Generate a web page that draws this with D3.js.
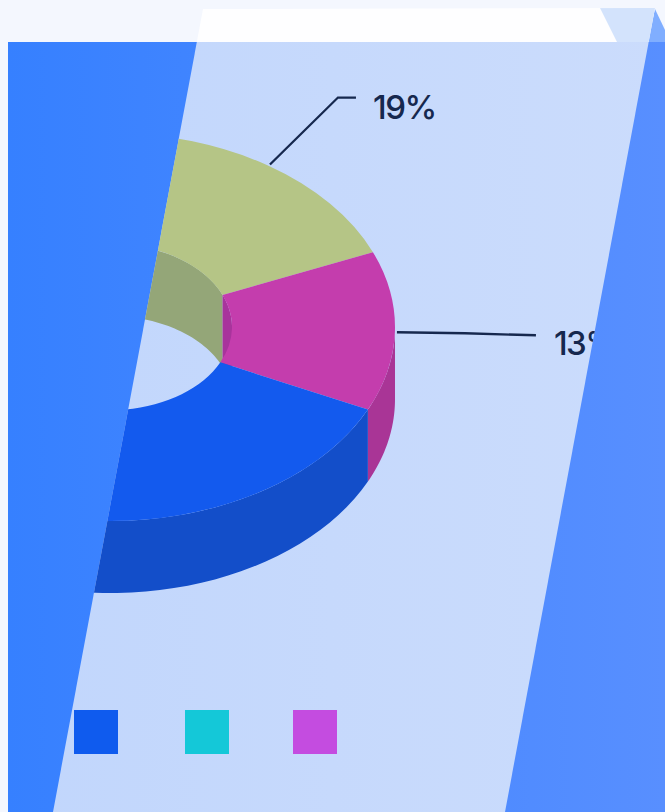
<!DOCTYPE html>
<html>
<head>
<meta charset="utf-8">
<script src="https://cdn.jsdelivr.net/npm/d3@7"></script>
<style>
  html, body { margin: 0; padding: 0; background: #f4f7fe; overflow: hidden; }
  text { font-family: Inter, sans-serif; font-weight: 500; fill: #16284e; }
</style>
</head>
<body>
<div id="chart"></div>
<script>
// Slices, clockwise from the top of the ring. Only the first two show a label,
// blue is partly hidden and teal/purple sit behind the panel (estimated)
const categories = ['Green', 'Magenta', 'Blue', 'Teal', 'Purple'];
const shares = [18.7, 13.3, 32, 20, 16];
const topColors = ['#b5c586', '#c43dad', '#135aee', '#14b4c4', '#a83fc4'];
const outerWallColors = ['#94a678', '#a93596', '#134ec9', '#1199a8', '#8f35a8'];
const innerWallColors = ['#94a678', '#a8349c', '#134ec9', '#1199a8', '#8f35a8'];

const labelled = ['Green', 'Magenta'];
const legendItems = ['Blue', 'Teal', 'Purple'];
const legendColors = ['#0f5bee', '#14c8d8', '#c44ce0'];

const width = 665;
const height = 812;

// Ring geometry
const cx = 110, cy = 327;
const outerR = 285, innerR = 122;
const squash = 194 / 285;
const depth = 72;

const svg = d3.select('#chart')
    .append('svg')
    .attr('width', width)
    .attr('height', height)
    .style('display', 'block');

const defs = svg.append('defs');

const blueGrad = defs.append('linearGradient').attr('id', 'blueGrad');
blueGrad.append('stop').attr('offset', '0%').attr('stop-color', '#3680ff');
blueGrad.append('stop').attr('offset', '100%').attr('stop-color', '#588fff');

const paleGrad = defs.append('linearGradient').attr('id', 'paleGrad');
paleGrad.append('stop').attr('offset', '0%').attr('stop-color', '#c1d6fc');
paleGrad.append('stop').attr('offset', '100%').attr('stop-color', '#cbdcfc');

// Slanted panel, also the clip of everything in the chart
const panelPoints = [[203, 9], [655, 8], [505, 812], [53, 812]];
defs.append('clipPath').attr('id', 'panelClip')
    .append('polygon').attr('points', panelPoints.join(' '));

// Background shapes
svg.append('rect').attr('x', 8).attr('y', 42).attr('width', width - 8).attr('height', height - 42)
    .style('fill', 'url(#blueGrad)');
svg.append('polygon').attr('points', '655,9 665,30 665,42 647,42').style('fill', '#80aeff');

const panel = svg.append('g').attr('clip-path', 'url(#panelClip)');
panel.append('rect').attr('x', 0).attr('y', 42).attr('width', width).attr('height', height - 42)
    .style('fill', 'url(#paleGrad)');
panel.append('rect').attr('x', 0).attr('y', 0).attr('width', width).attr('height', 42)
    .style('fill', '#fefeff');
panel.append('polygon').attr('points', '600,8 665,8 665,42 617,42').style('fill', '#d3e3fc');

// Pie layout
const pie = d3.pie().sort(null).value(d => d)(shares);

// Point on a ring edge for angle a (0 = top, clockwise), drop = how far down the wall
function rim(a, r, drop) {
    return [cx + r * Math.sin(a), cy - r * squash * Math.cos(a) + drop];
}

// Wall piece between two angles: upper rim forwards, lower rim backwards
function wallPath(a0, a1, r) {
    const steps = d3.range(0, 41).map(i => a0 + (a1 - a0) * i / 40);
    const upper = steps.map(a => rim(a, r, 0));
    const lower = steps.slice().reverse().map(a => rim(a, r, depth));
    return d3.line()(upper.concat(lower)) + 'Z';
}

const chart = panel.append('g');

// Inner wall: only the far side of the hole can be seen
const innerWalls = chart.append('g');
pie.forEach((d, i) => {
    const visible = [[d.startAngle, d.endAngle], [d.startAngle - 2 * Math.PI, d.endAngle - 2 * Math.PI]]
        .map(([a, b]) => [Math.max(a, -Math.PI / 2), Math.min(b, Math.PI / 2)])
        .filter(([a, b]) => b > a);
    visible.forEach(([a, b]) => {
        innerWalls.append('path').attr('d', wallPath(a, b, innerR)).style('fill', innerWallColors[i]);
    });
});

// Outer wall: only the near side
const outerWalls = chart.append('g');
pie.forEach((d, i) => {
    const a = Math.max(d.startAngle, Math.PI / 2);
    const b = Math.min(d.endAngle, 3 * Math.PI / 2);
    if (b > a) {
        outerWalls.append('path').attr('d', wallPath(a, b, outerR)).style('fill', outerWallColors[i]);
    }
});

// Top faces
const arc = d3.arc().innerRadius(innerR).outerRadius(outerR);
chart.append('g')
    .attr('transform', `translate(${cx},${cy}) scale(1,${squash})`)
    .selectAll('path')
    .data(pie)
    .enter().append('path')
    .attr('d', arc)
    .style('fill', (d, i) => topColors[i]);

// Leader lines and labels, anchored on the middle of each slice
const leaders = {
    Green: { start: [2, -1], elbow: [70, -68], end: [88, -68], text: [105, -47] },
    Magenta: { start: [2, 1], elbow: [70, 2], end: [141, 4], text: [159, 24] }
};

labelled.forEach(name => {
    const i = categories.indexOf(name);
    const mid = (pie[i].startAngle + pie[i].endAngle) / 2;
    const [x, y] = rim(mid, outerR, 0);
    const l = leaders[name];
    chart.append('path')
        .attr('d', d3.line()([l.start, l.elbow, l.end].map(p => [x + p[0], y + p[1]])))
        .style('fill', 'none')
        .style('stroke', '#16284e')
        .style('stroke-width', 2.3);
    chart.append('text')
        .attr('x', x + l.text[0])
        .attr('y', y + l.text[1])
        .style('font-size', '33px')
        .style('letter-spacing', '-1.5px')
        .text(Math.round(shares[i]) + '%');
});

// Legend swatches
const legendX = d3.scaleOrdinal().domain(legendItems).range([74, 185, 293]);
chart.append('g')
    .selectAll('rect')
    .data(legendItems)
    .enter().append('rect')
    .attr('x', d => legendX(d))
    .attr('y', 710)
    .attr('width', 44)
    .attr('height', 44)
    .style('fill', (d, i) => legendColors[i]);
</script>
</body>
</html>
